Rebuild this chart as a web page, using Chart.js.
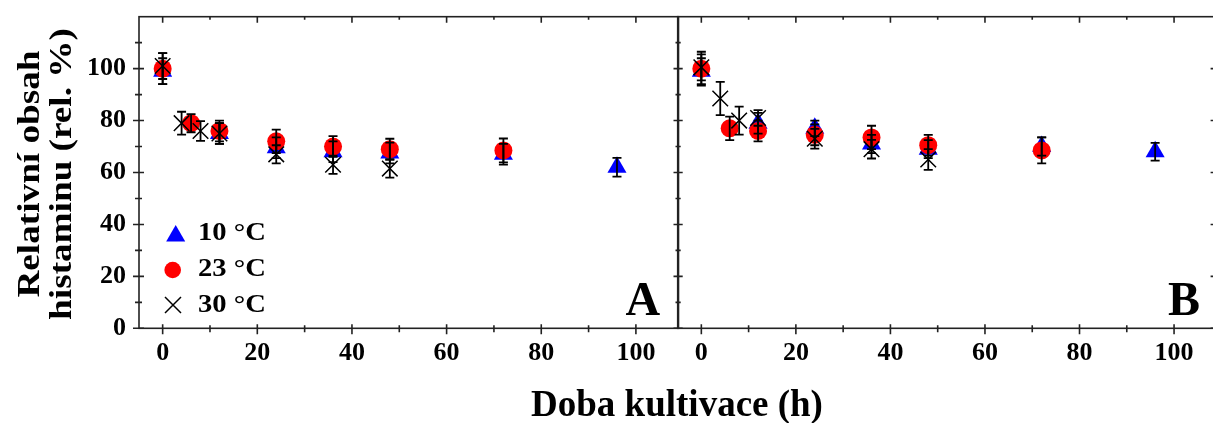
<!DOCTYPE html>
<html><head><meta charset="utf-8">
<script src="https://cdn.jsdelivr.net/npm/chart.js@4/dist/chart.umd.min.js"></script>
<style>
html,body{margin:0;padding:0;background:#fff;overflow:hidden;width:1213px;height:423px;}
#wrap{position:relative;width:1213px;height:423px;overflow:hidden;background:#fff;}
canvas{position:absolute;top:0;}
#xt{position:absolute;left:0;width:1354px;top:384px;text-align:center;font:bold 37px "Liberation Serif","Times New Roman",serif;line-height:40px;color:#000;white-space:nowrap;}
</style>
</head><body>
<div id="wrap">
<canvas id="ca" width="680" height="423"></canvas>
<canvas id="cb" width="580" height="423"></canvas>
<div id="xt">Doba kultivace (h)</div>
</div>
<script>
// ---- data ----
const seriesLabels = ['10 °C', '23 °C', '30 °C'];
const xTicks = [0, 20, 40, 60, 80, 100];
const xMinorTicks = [10, 30, 50, 70, 90];
const yTicks = [0, 20, 40, 60, 80, 100];
const yMinorTicks = [10, 30, 50, 70, 90, 110];

// Panel A
const a10x = [0, 12, 24, 36, 48, 72, 96];
const a10y = [99, 75, 69.5, 68, 67.5, 67, 62];
const a10e = [5, 4, 4, 4, 4, 4, 3.6];
const a23x = [0, 6, 12, 24, 36, 48, 72];
const a23y = [100, 79, 76, 72, 70, 69, 68.5];
const a23e = [6, 3.5, 4, 4.5, 4, 4, 4.6];
const a30x = [0, 4, 8, 12, 24, 36, 48];
const a30y = [101, 79, 76, 75, 67, 63, 61.5];
const a30e = [5, 4.4, 3.8, 4, 3.5, 3.5, 3.5];

// Panel B
const b10x = [0, 12, 24, 36, 48, 72, 96];
const b10y = [99, 79, 77, 71, 69, 70, 68];
const b10e = [5, 4, 3, 3.5, 3.5, 3.5, 3.4];
const b23x = [0, 6, 12, 24, 36, 48, 72];
const b23y = [100, 77, 76, 74.5, 73.5, 70.5, 68.5];
const b23e = [6.5, 4.5, 4, 4, 4.5, 4, 5];
const b30x = [0, 4, 8, 12, 24, 36, 48];
const b30y = [100.5, 88.5, 80, 81, 73, 69, 65];
const b30e = [5, 6.4, 5.4, 3, 3.8, 3.6, 4];

const FONT = '"Liberation Serif","Times New Roman",serif';
const BLUE = '#0000ff', RED = '#ff0000', AXIS = '#222';

function pts(xs, ys) { return xs.map((v, i) => ({x: v, y: ys[i]})); }

function drawTri(ctx, x, y, r) {
  ctx.beginPath();
  ctx.moveTo(x, y - r);
  ctx.lineTo(x + r * Math.sin(2 * Math.PI / 3), y - r * Math.cos(2 * Math.PI / 3));
  ctx.lineTo(x + r * Math.sin(4 * Math.PI / 3), y - r * Math.cos(4 * Math.PI / 3));
  ctx.closePath(); ctx.fill();
}

const framePlugin = {
  id: 'frame',
  afterDatasetsDraw(chart, args, o) {
    const {ctx, scales: {x, y}} = chart;
    ctx.save();
    ctx.strokeStyle = '#000'; ctx.lineWidth = 1.8;
    chart.data.datasets.forEach(ds => {
      ds.data.forEach((p, j) => {
        const e = ds.err[j];
        const px = x.getPixelForValue(p.x);
        const t = y.getPixelForValue(p.y + e), b = y.getPixelForValue(p.y - e);
        ctx.beginPath();
        ctx.moveTo(px, t); ctx.lineTo(px, b);
        ctx.moveTo(px - 4.5, t); ctx.lineTo(px + 4.5, t);
        ctx.moveTo(px - 4.5, b); ctx.lineTo(px + 4.5, b);
        ctx.stroke();
      });
    });
    ctx.restore();
  },
  afterDraw(chart, args, o) {
    const {ctx, chartArea: a, scales: {x, y}} = chart;
    ctx.save();
    ctx.strokeStyle = AXIS; ctx.lineWidth = 1.6;
    ctx.strokeRect(a.left, a.top, a.right - a.left, a.bottom - a.top);
    ctx.beginPath();
    const side = (vals, len, which) => {
      vals.forEach(v => {
        if (which === 'bottom' || which === 'top') {
          const px = x.getPixelForValue(v);
          if (which === 'bottom') { ctx.moveTo(px, a.bottom - len[0]); ctx.lineTo(px, a.bottom + len[1]); }
          else { ctx.moveTo(px, a.top - len[1]); ctx.lineTo(px, a.top + len[0]); }
        } else {
          const py = y.getPixelForValue(v);
          if (which === 'left') { ctx.moveTo(a.left - len[1], py); ctx.lineTo(a.left + len[0], py); }
          else { ctx.moveTo(a.right - len[0], py); ctx.lineTo(a.right + len[1], py); }
        }
      });
    };
    const T = o.ticks;
    for (const s of ['left', 'right', 'top', 'bottom']) {
      const isX = (s === 'top' || s === 'bottom');
      side(isX ? xTicks : yTicks, T[s].major, s);
      side(isX ? xMinorTicks : yMinorTicks, T[s].minor, s);
    }
    ctx.stroke();

    // panel label, placed relative to the plot's right edge
    ctx.fillStyle = '#000';
    ctx.font = 'bold 48px ' + FONT;
    ctx.textBaseline = 'alphabetic'; ctx.textAlign = 'left';
    ctx.fillText(o.label, a.right - o.labelFromRight, 315);

    if (o.legend) {
      ctx.fillStyle = BLUE; drawTri(ctx, 175.7, 236, 11);
      ctx.fillStyle = RED; ctx.beginPath(); ctx.arc(172.7, 270, 8.3, 0, Math.PI * 2); ctx.fill();
      ctx.strokeStyle = '#000'; ctx.lineWidth = 1.5; ctx.beginPath();
      ctx.moveTo(165, 297); ctx.lineTo(181, 313); ctx.moveTo(181, 297); ctx.lineTo(165, 313); ctx.stroke();
      ctx.fillStyle = '#000'; ctx.font = 'bold 26px ' + FONT;
      const bl = [240, 276, 312];
      seriesLabels.forEach((t, i) => {
        ctx.save(); ctx.translate(198, bl[i]); ctx.scale(1.1, 1);
        ctx.fillText(t, 0, 0); ctx.restore();
      });
    }
    if (o.ytitle) {
      ctx.save();
      ctx.translate(46, 174); ctx.rotate(-Math.PI / 2); ctx.scale(1.2, 1);
      ctx.textAlign = 'center'; ctx.textBaseline = 'middle';
      ctx.font = 'bold 31px ' + FONT;
      ctx.fillText('Relativní obsah', 0, -15);
      ctx.fillText('histaminu (rel. %)', 0, 17);
      ctx.restore();
    }
    ctx.restore();
  }
};

function noPad(s) { s.paddingTop = 0; s.paddingBottom = 0; s.paddingLeft = 0; s.paddingRight = 0; }

function makeConfig(d, cfg) {
  const tickFont = {family: FONT, size: 26, weight: 'bold'};
  return {
    type: 'scatter',
    data: {datasets: [
      {label: seriesLabels[0], data: pts(d.x10, d.y10), err: d.e10, order: 3,
       pointStyle: 'triangle', pointRadius: 11, pointBackgroundColor: BLUE, pointBorderColor: BLUE, pointBorderWidth: 0},
      {label: seriesLabels[1], data: pts(d.x23, d.y23), err: d.e23, order: 2,
       pointStyle: 'circle', pointRadius: 9, pointBackgroundColor: RED, pointBorderColor: RED, pointBorderWidth: 0},
      {label: seriesLabels[2], data: pts(d.x30, d.y30), err: d.e30, order: 1,
       pointStyle: 'crossRot', pointRadius: 11, pointBackgroundColor: '#000', pointBorderColor: '#000', pointBorderWidth: 1.5}
    ]},
    options: {
      responsive: false, animation: false, devicePixelRatio: 1,
      layout: {padding: Object.assign({}, cfg.padding)},
      plugins: {legend: {display: false}, tooltip: {enabled: false}, frame: cfg.frame},
      scales: {
        x: {type: 'linear', min: -5, max: 109, display: true,
            afterBuildTicks: s => { s.ticks = xTicks.map(v => ({value: v})); },
            afterFit: s => { s.height = 94.7; noPad(s); },
            grid: {display: false, drawTicks: false}, border: {display: false},
            ticks: {font: tickFont, color: '#000', padding: 9, maxRotation: 0, autoSkip: false}},
        y: {type: 'linear', min: 0, max: 120, display: cfg.showY,
            afterBuildTicks: s => { s.ticks = yTicks.map(v => ({value: v})); },
            afterFit: s => { if (cfg.showY) s.width = 139; noPad(s); },
            grid: {display: false, drawTicks: false}, border: {display: false},
            ticks: {font: tickFont, color: '#000', padding: 13, autoSkip: false}}
      }
    },
    plugins: [framePlugin]
  };
}

// build, then adjust canvas position/width until the plot area sits where the reference has it
function build(id, d, cfg) {
  const cv = document.getElementById(id);
  let chart = null;
  for (let k = 0; k < 5; k++) {
    cv.width = Math.round(cfg.w); cv.height = 423;
    cv.style.width = Math.round(cfg.w) + 'px'; cv.style.height = '423px';
    cv.style.left = cfg.x0 + 'px';
    chart = new Chart(cv, makeConfig(d, cfg));
    const ca = chart.chartArea;
    const dl = (cfg.x0 + ca.left) - cfg.area[0];
    const dr = (cfg.x0 + ca.right) - cfg.area[1];
    if (Math.abs(dl) < 0.6 && Math.abs(dr) < 0.6) break;
    if (k === 4) break;
    chart.destroy();
    cfg.x0 -= dl;
    cfg.w -= (dr - dl);
  }
  return chart;
}

build('ca', {x10: a10x, y10: a10y, e10: a10e, x23: a23x, y23: a23y, e23: a23e, x30: a30x, y30: a30y, e30: a30e}, {
  x0: 0, w: 680, area: [139, 678],
  padding: {top: 16.7, right: 2, left: 0, bottom: 0}, showY: true,
  frame: {label: 'A', labelFromRight: 53, legend: true, ytitle: true,
    ticks: {left: {major: [5, 6], minor: [3, 4]}, bottom: {major: [4, 6], minor: [3, 4]},
            top: {major: [6, 0], minor: [3, 0]}, right: {major: [5, 0], minor: [3, 0]}}}
});
build('cb', {x10: b10x, y10: b10y, e10: b10e, x23: b23x, y23: b23y, e23: b23e, x30: b30x, y30: b30y, e30: b30e}, {
  x0: 660, w: 580, area: [677.7, 1216.6],
  padding: {top: 16.7, right: 23.4, left: 17.7, bottom: 0}, showY: false,
  frame: {label: 'B', labelFromRight: 48.6, legend: false, ytitle: false,
    ticks: {left: {major: [5, 0], minor: [3, 0]}, bottom: {major: [4, 6], minor: [3, 4]},
            top: {major: [6, 0], minor: [3, 0]}, right: {major: [6, 0], minor: [3, 0]}}}
});
</script>
</body></html>
